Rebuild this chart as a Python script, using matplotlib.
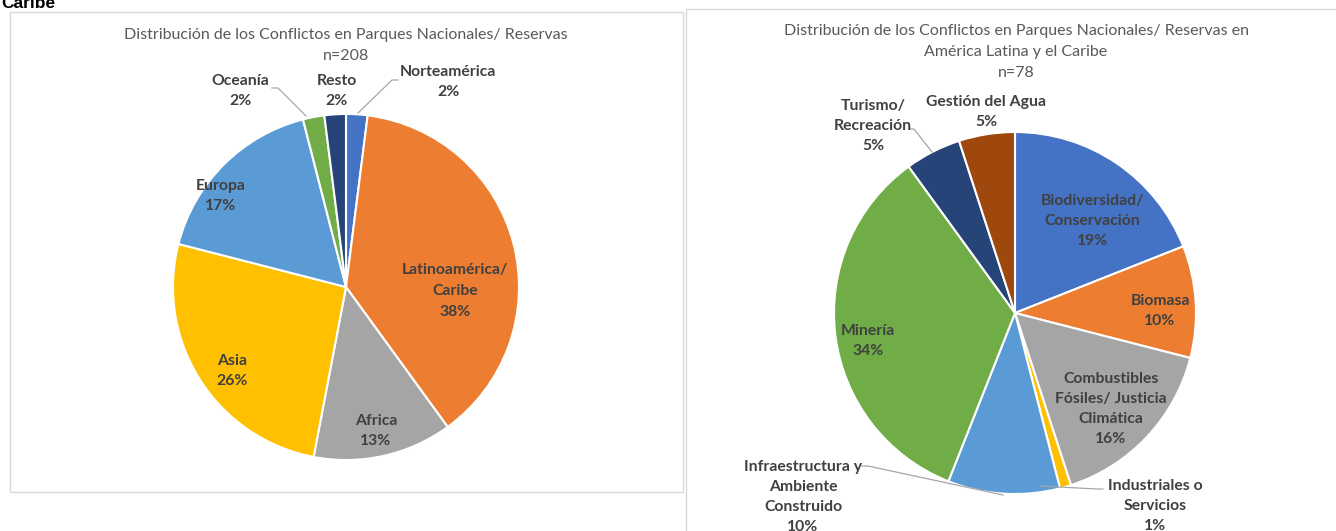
import matplotlib.pyplot as plt
from matplotlib.patches import Rectangle

W, H = 1336, 531

# conflicts in national parks / reserves by region (n=208)
regions = ['Norteamérica', 'Latinoamérica/\nCaribe', 'Africa', 'Asia', 'Europa', 'Oceanía', 'Resto']
region_pct = [2, 38, 13, 26, 17, 2, 2]
region_colors = ['#4472C4', '#ED7D31', '#A5A5A5', '#FFC000', '#5B9BD5', '#70AD47', '#264478']

# Latin America & Caribbean by conflict type (n=78)
types = ['Biodiversidad/\nConservación', 'Biomasa', 'Combustibles\nFósiles/ Justicia\nClimática',
         'Industriales o\nServicios', 'Infraestructura y\nAmbiente\nConstruido', 'Minería',
         'Turismo/\nRecreación', 'Gestión del Agua']
type_pct = [19, 10, 16, 1, 10, 34, 5, 5]
type_colors = ['#4472C4', '#ED7D31', '#A5A5A5', '#FFC000', '#5B9BD5', '#70AD47', '#264478', '#9E480E']

# label anchor points in pixels (y measured from the top)
region_label_xy = [(448, 82), (455, 291), (376, 431), (232, 371), (221, 196), (240, 91), (337, 91)]
type_label_xy = [(1092, 221), (1160, 311), (1111, 409), (1155, 506), (803, 497), (868, 341),
                 (873, 126), (986, 112)]

plt.rcParams['font.family'] = ['Lato', 'DejaVu Sans']
TITLE_C = '#595959'
LABEL_C = '#404040'
LEADER_C = '#A6A6A6'

fig = plt.figure(figsize=(W / 100, H / 100), dpi=100)
ax = fig.add_axes([0, 0, 1, 1])


def Y(y):
    return H - y


# chart frames
ax.add_patch(Rectangle((10, Y(492)), 673, 480, fill=False, edgecolor='#D9D9D9', lw=1))
ax.add_patch(Rectangle((686, Y(560)), 700, 551, fill=False, edgecolor='#D9D9D9', lw=1))

# heading of the page above, mostly cut off
ax.text(1, Y(8), 'Caribe', fontsize=12.5, fontweight='bold', color='black',
        family='Liberation Sans', ha='left', va='baseline')

wedge_style = dict(edgecolor='white', linewidth=1.5)

ax.pie(region_pct, colors=region_colors, startangle=90, counterclock=False,
       center=(346, Y(287)), radius=173, wedgeprops=wedge_style, frame=True)
ax.pie(type_pct, colors=type_colors, startangle=90, counterclock=False,
       center=(1015, Y(313)), radius=181, wedgeprops=wedge_style, frame=True)

# titles
ax.text(346, Y(35), 'Distribución de los Conflictos en Parques Nacionales/ Reservas',
        ha='center', va='center', fontsize=11.5, color=TITLE_C)
ax.text(346, Y(56), 'n=208', ha='center', va='center', fontsize=11.5, color=TITLE_C)
ax.text(1016, Y(52), 'Distribución de los Conflictos en Parques Nacionales/ Reservas en\n'
        'América Latina y el Caribe\nn=78',
        ha='center', va='center', fontsize=11.5, color=TITLE_C, linespacing=1.6)

# data labels
for name, pct, (x, y) in zip(regions, region_pct, region_label_xy):
    ax.text(x, Y(y), f'{name}\n{pct}%', ha='center', va='center', fontsize=11.3,
            fontweight='bold', color=LABEL_C, linespacing=1.62)
for name, pct, (x, y) in zip(types, type_pct, type_label_xy):
    ax.text(x, Y(y), f'{name}\n{pct}%', ha='center', va='center', fontsize=11.3,
            fontweight='bold', color=LABEL_C, linespacing=1.52)

# leader lines
leaders = [
    [(358, 113), (392, 80), (398, 80)],       # Norteamérica
    [(272, 88), (278, 88), (306, 116)],       # Oceanía
    [(910, 129), (914, 129), (932, 152)],     # Turismo/ Recreación
    [(862, 466), (868, 466), (1003, 495)],    # Infraestructura
    [(1103, 489), (1097, 489), (1040, 486)],  # Industriales
]
for pts in leaders:
    xs, ys = zip(*pts)
    ax.plot(xs, [Y(v) for v in ys], color=LEADER_C, lw=0.9)

ax.set_xlim(0, W)
ax.set_ylim(0, H)
ax.set_aspect('auto')
ax.axis('off')

fig.savefig('out.png', dpi=100, facecolor='white')
